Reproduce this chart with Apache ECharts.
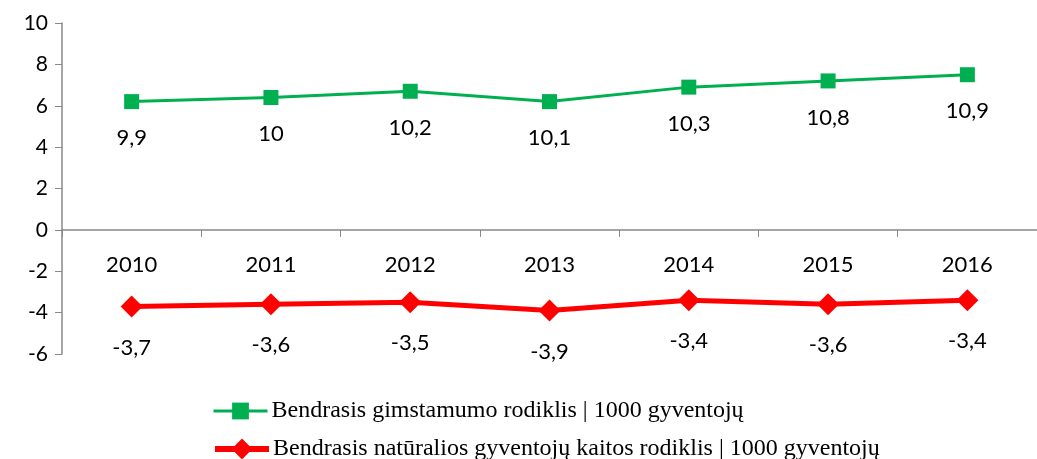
<!DOCTYPE html>
<html>
<head>
<meta charset="utf-8">
<script src="https://cdn.jsdelivr.net/npm/echarts@6/dist/echarts.min.js"></script>
<style>
  html, body { margin: 0; padding: 0; background: #fff; }
  #main { width: 1037px; height: 459px; }
</style>
</head>
<body>
<div id="main"></div>
<script>
var years = ['2010', '2011', '2012', '2013', '2014', '2015', '2016'];
// green line as drawn in the picture, and the labels printed next to it
var birthPlotted = [6.2, 6.4, 6.7, 6.2, 6.9, 7.2, 7.5];
var birthLabels = ['9,9', '10', '10,2', '10,1', '10,3', '10,8', '10,9'];
var naturalChange = [-3.7, -3.6, -3.5, -3.9, -3.4, -3.6, -3.4];
var yTicks = [-6, -4, -2, 0, 2, 4, 6, 8, 10];

var birthName = 'Bendrasis gimstamumo rodiklis | 1000 gyventojų';
var changeName = 'Bendrasis natūralios gyventojų kaitos rodiklis | 1000 gyventojų';

var myChart = echarts.init(document.getElementById('main'));

var font = 'Lato, "Open Sans", sans-serif';
var gridTop = 23, gridBottom = 105, chartH = 459;
var yMin = yTicks[0], yMax = yTicks[yTicks.length - 1];
// x axis sits on the zero line, labels included
var zeroOffset = -(chartH - gridTop - gridBottom) * (0 - yMin) / (yMax - yMin);

var legendText = { fontFamily: '"Liberation Serif", serif', fontSize: 24, color: '#000', padding: [0, 0, 0, -1] };

option = {
    animation: false,
    grid: { left: 62, right: -5, top: gridTop, bottom: gridBottom },
    legend: [{
        left: 207,
        top: 394,
        itemWidth: 54,
        itemHeight: 21,
        textStyle: legendText,
        data: [{ name: birthName, lineStyle: { width: 3 } }]
    }, {
        left: 207,
        top: 432,
        itemWidth: 54,
        itemHeight: 26,
        textStyle: legendText,
        data: [{ name: changeName, lineStyle: { width: 6 } }]
    }],
    xAxis: {
        type: 'category',
        data: years,
        offset: zeroOffset,
        axisLine: { onZero: false, lineStyle: { color: '#888', width: 1.5 } },
        axisTick: { show: true, length: 7, lineStyle: { color: '#888' } },
        axisLabel: { margin: 24, fontFamily: font, fontSize: 22, color: '#000' }
    },
    yAxis: {
        type: 'value',
        min: yMin,
        max: yMax,
        interval: 2,
        splitLine: { show: false },
        axisLine: { show: true, lineStyle: { color: '#888', width: 1.5 } },
        axisTick: { show: true, length: 7, lineStyle: { color: '#888' } },
        axisLabel: { margin: 14, fontFamily: font, fontSize: 21, color: '#000' }
    },
    series: [{
        name: birthName,
        type: 'line',
        data: birthPlotted,
        symbol: 'rect',
        symbolSize: 15,
        lineStyle: { color: '#00B050', width: 3 },
        itemStyle: { color: '#00B050' },
        label: {
            show: true,
            position: 'bottom',
            distance: 18,
            fontFamily: font,
            fontSize: 22,
            color: '#000',
            formatter: function (p) { return birthLabels[p.dataIndex]; }
        }
    }, {
        name: changeName,
        type: 'line',
        data: naturalChange,
        symbol: 'diamond',
        symbolSize: 22,
        lineStyle: { color: '#FF0000', width: 5 },
        itemStyle: { color: '#FF0000' },
        label: {
            show: true,
            position: 'bottom',
            distance: 19,
            fontFamily: font,
            fontSize: 22,
            color: '#000',
            formatter: function (p) { return String(p.value).replace('.', ','); }
        }
    }]
};

myChart.setOption(option);
</script>
</body>
</html>
